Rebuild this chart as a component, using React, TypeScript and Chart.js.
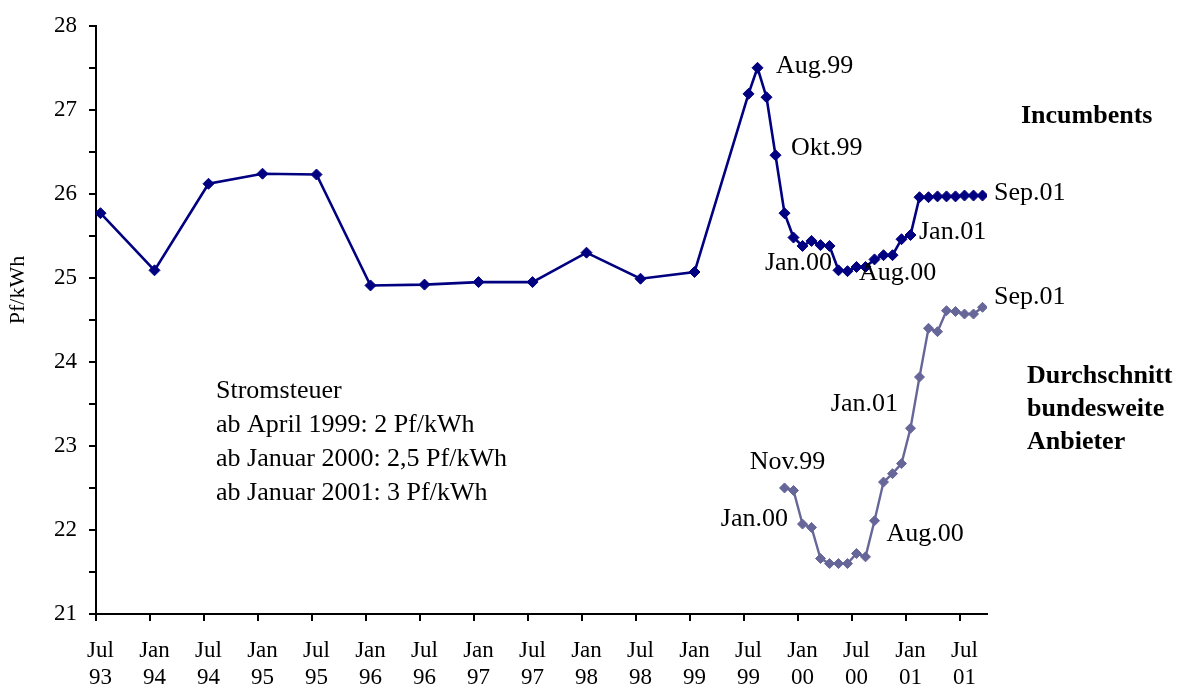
import React, { useEffect, useRef } from 'react';
import { Chart, registerables } from 'chart.js';

Chart.register(...registerables);

const FONT = "'Liberation Serif', 'Times New Roman', Times, serif";

// ---- Data ----
const incumbentDates = [
  '1993-07', '1994-01', '1994-07', '1995-01', '1995-07', '1996-01', '1996-07', '1997-01', '1997-07', '1998-01', '1998-07', '1999-01',
  '1999-07', '1999-08', '1999-09', '1999-10', '1999-11', '1999-12',
  '2000-01', '2000-02', '2000-03', '2000-04', '2000-05', '2000-06', '2000-07', '2000-08', '2000-09', '2000-10', '2000-11', '2000-12',
  '2001-01', '2001-02', '2001-03', '2001-04', '2001-05', '2001-06', '2001-07', '2001-08', '2001-09',
];
const incumbentValues = [
  25.77, 25.09, 26.12, 26.24, 26.23, 24.91, 24.92, 24.95, 24.95, 25.30, 24.99, 25.07,
  27.19, 27.50, 27.15, 26.46, 25.77, 25.48,
  25.38, 25.44, 25.39, 25.38, 25.09, 25.08, 25.13, 25.13, 25.22, 25.27, 25.27, 25.46,
  25.51, 25.96, 25.96, 25.97, 25.97, 25.97, 25.98, 25.98, 25.98,
];

const averageDates = [
  '1999-11', '1999-12',
  '2000-01', '2000-02', '2000-03', '2000-04', '2000-05', '2000-06', '2000-07', '2000-08', '2000-09', '2000-10', '2000-11', '2000-12',
  '2001-01', '2001-02', '2001-03', '2001-04', '2001-05', '2001-06', '2001-07', '2001-08', '2001-09',
];
const averageValues = [
  22.50, 22.47,
  22.07, 22.03, 21.66, 21.60, 21.60, 21.60, 21.72, 21.68, 22.11, 22.57, 22.67, 22.79,
  23.21, 23.82, 24.40, 24.36, 24.61, 24.60, 24.57, 24.57, 24.65,
];

const xTickDates = [
  '1993-07', '1994-01', '1994-07', '1995-01', '1995-07', '1996-01', '1996-07', '1997-01', '1997-07',
  '1998-01', '1998-07', '1999-01', '1999-07', '2000-01', '2000-07', '2001-01', '2001-07',
];
const xTickMonths = ['Jul', 'Jan', 'Jul', 'Jan', 'Jul', 'Jan', 'Jul', 'Jan', 'Jul', 'Jan', 'Jul', 'Jan', 'Jul', 'Jan', 'Jul', 'Jan', 'Jul'];
const xTickYears = ['93', '94', '94', '95', '95', '96', '96', '97', '97', '98', '98', '99', '99', '00', '00', '01', '01'];

const incumbentPointLabels = [
  { date: '1999-08', text: 'Aug.99' },
  { date: '1999-10', text: 'Okt.99' },
  { date: '2000-01', text: 'Jan.00' },
  { date: '2000-08', text: 'Aug.00' },
  { date: '2001-01', text: 'Jan.01' },
  { date: '2001-09', text: 'Sep.01' },
];
const averagePointLabels = [
  { date: '1999-11', text: 'Nov.99' },
  { date: '2000-01', text: 'Jan.00' },
  { date: '2000-08', text: 'Aug.00' },
  { date: '2001-01', text: 'Jan.01' },
  { date: '2001-09', text: 'Sep.01' },
];

const noteLines = ['Stromsteuer', 'ab April 1999: 2 Pf/kWh', 'ab Januar 2000: 2,5 Pf/kWh', 'ab Januar 2001: 3 Pf/kWh'];
const incumbentName = ['Incumbents'];
const averageName = ['Durchschnitt', 'bundesweite', 'Anbieter'];
const yTitle = 'Pf/kWh';

// ---- Placement (pixels) ----
const incumbentLabelPlacement = [
  { dx: 18.5, dy: -2, align: 'left' },
  { dx: 15.5, dy: -7, align: 'left' },
  { dx: -4, dy: 17, align: 'center' },
  { dx: -6.5, dy: 6.5, align: 'left' },
  { dx: 8.5, dy: -3, align: 'left' },
  { dx: 11.5, dy: -2.5, align: 'left' },
];
const averageLabelPlacement = [
  { dx: 3, dy: -25.5, align: 'center' },
  { dx: -14.5, dy: -5, align: 'right' },
  { dx: 21, dy: -23, align: 'left' },
  { dx: -12.5, dy: -24, align: 'right' },
  { dx: 11.5, dy: -10, align: 'left' },
];

function monthIndex(d: string): number {
  const [y, m] = d.split('-').map(Number);
  return (y - 1993) * 12 + (m - 7);
}
const xOf = (d: string) => monthIndex(d) + 0.5;

const INC_COLOR = '#000080';
const AVG_COLOR = '#666699';

const textPlugin = {
  id: 'chartTexts',
  afterDraw(chart: any) {
    const ctx: CanvasRenderingContext2D = chart.ctx;
    const xs = chart.scales.x;
    const ys = chart.scales.y;
    ctx.save();
    ctx.fillStyle = '#000';
    ctx.textBaseline = 'middle';
    ctx.font = `26px ${FONT}`;

    incumbentPointLabels.forEach((l, k) => {
      const p = incumbentLabelPlacement[k];
      const i = incumbentDates.indexOf(l.date);
      const px = xs.getPixelForValue(xOf(l.date));
      const py = ys.getPixelForValue(incumbentValues[i]);
      ctx.textAlign = p.align as CanvasTextAlign;
      ctx.fillText(l.text, px + p.dx, py + p.dy);
    });
    averagePointLabels.forEach((l, k) => {
      const p = averageLabelPlacement[k];
      const i = averageDates.indexOf(l.date);
      const px = xs.getPixelForValue(xOf(l.date));
      const py = ys.getPixelForValue(averageValues[i]);
      ctx.textAlign = p.align as CanvasTextAlign;
      ctx.fillText(l.text, px + p.dx, py + p.dy);
    });

    ctx.textAlign = 'left';
    noteLines.forEach((t, k) => ctx.fillText(t, 216, 391 + k * 34));

    ctx.font = `bold 26px ${FONT}`;
    incumbentName.forEach((t, k) => ctx.fillText(t, 1021, 116 + k * 33));
    averageName.forEach((t, k) => ctx.fillText(t, 1027, 376 + k * 33));

    ctx.font = `22px ${FONT}`;
    ctx.translate(18, 290);
    ctx.rotate(-Math.PI / 2);
    ctx.textAlign = 'center';
    ctx.fillText(yTitle, 0, 0);
    ctx.restore();
  },
};

export default function App() {
  const canvasRef = useRef<HTMLCanvasElement | null>(null);

  useEffect(() => {
    const canvas = canvasRef.current;
    if (!canvas) return;
    const xTickPos = xTickDates.map(monthIndex);
    const chart = new Chart(canvas, {
      type: 'line',
      data: {
        datasets: [
          {
            label: 'Incumbents',
            data: incumbentDates.map((d, i) => ({ x: xOf(d), y: incumbentValues[i] })),
            borderColor: INC_COLOR,
            backgroundColor: INC_COLOR,
            borderWidth: 2.6,
            pointStyle: 'rectRot',
            pointRadius: 5.5,
            pointBorderWidth: 1,
            pointBorderColor: INC_COLOR,
            pointBackgroundColor: INC_COLOR,
            tension: 0,
          },
          {
            label: 'Durchschnitt bundesweite Anbieter',
            data: averageDates.map((d, i) => ({ x: xOf(d), y: averageValues[i] })),
            borderColor: AVG_COLOR,
            backgroundColor: AVG_COLOR,
            borderWidth: 2.4,
            pointStyle: 'rectRot',
            pointRadius: 5,
            pointBorderWidth: 1,
            pointBorderColor: AVG_COLOR,
            pointBackgroundColor: AVG_COLOR,
            tension: 0,
          },
        ],
      },
      options: {
        animation: false,
        responsive: false,
        maintainAspectRatio: false,
        devicePixelRatio: 1,
        layout: { padding: { top: 23, right: 191, left: 0, bottom: 0 } },
        plugins: {
          legend: { display: false },
          tooltip: { enabled: false },
          title: { display: false },
        },
        scales: {
          x: {
            type: 'linear',
            min: 0,
            max: 99,
            afterBuildTicks: (axis: any) => {
              axis.ticks = xTickPos.map((v) => ({ value: v }));
            },
            afterFit: (scale: any) => {
              scale.height = 75;
            },
            ticks: {
              autoSkip: false,
              maxRotation: 0,
              minRotation: 0,
              padding: 16,
              labelOffset: 4.5,
              color: '#000',
              font: { family: FONT, size: 23, lineHeight: 27 / 23 },
              callback: (value: any) => {
                const i = xTickPos.indexOf(Number(value));
                return i >= 0 ? [xTickMonths[i], xTickYears[i]] : '';
              },
            },
            grid: {
              drawOnChartArea: false,
              drawTicks: true,
              tickLength: 7,
              color: '#000',
              lineWidth: 2,
            },
            border: { display: true, color: '#000', width: 2 },
          },
          y: {
            min: 21,
            max: 28,
            afterFit: (scale: any) => {
              scale.width = 96;
            },
            ticks: {
              stepSize: 0.5,
              padding: 12,
              color: '#000',
              font: { family: FONT, size: 23 },
              callback: (value: any) => (Number.isInteger(Number(value)) ? String(value) : ''),
            },
            grid: {
              drawOnChartArea: false,
              drawTicks: true,
              tickLength: 7,
              color: '#000',
              lineWidth: 2,
            },
            border: { display: true, color: '#000', width: 2 },
          },
        },
      },
      plugins: [textPlugin],
    } as any);
    return () => chart.destroy();
  }, []);

  return (
    <div style={{ position: 'absolute', left: 0, top: 0, width: 1178, height: 689, background: '#fff' }}>
      <canvas ref={canvasRef} width={1178} height={689} style={{ display: 'block' }} />
    </div>
  );
}
